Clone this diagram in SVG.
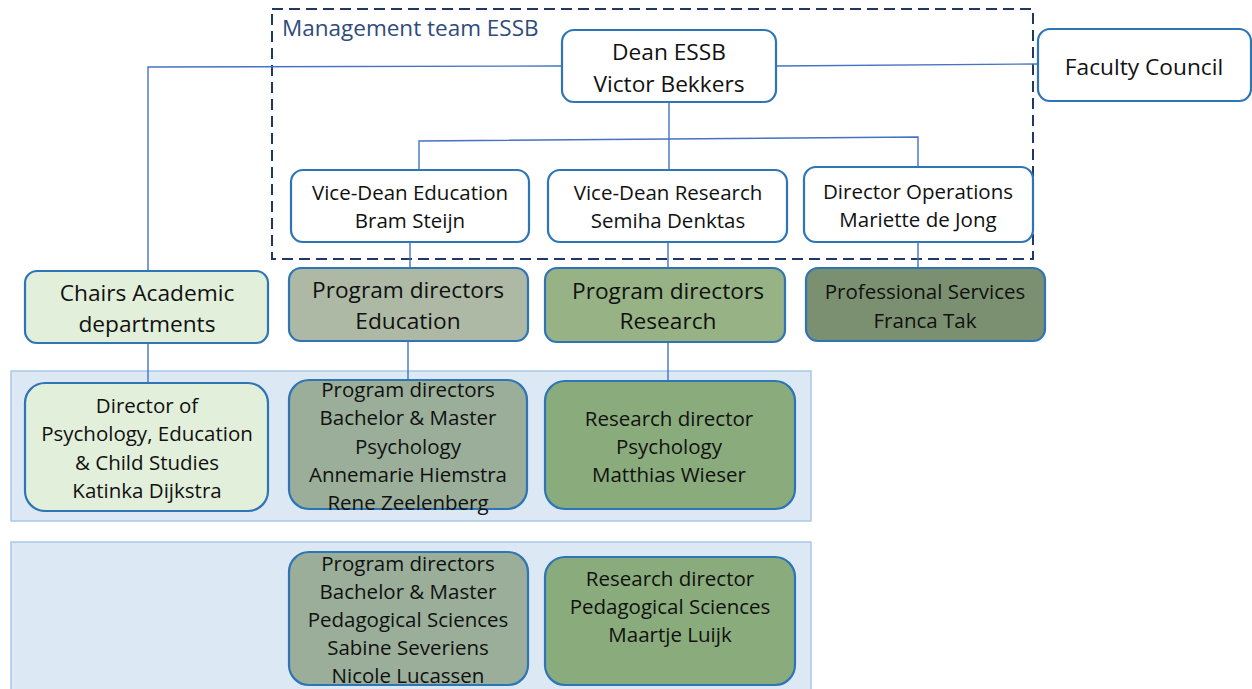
<svg xmlns="http://www.w3.org/2000/svg" width="1252" height="689" viewBox="0 0 1252 689">
  <style>
    text { font-family: "Open Sans", "Noto Sans", "Liberation Sans", sans-serif; fill: #111; text-anchor: middle; dominant-baseline: central; }
    .box { stroke: #2e75b6; stroke-width: 2.2; }
    .w { fill: #ffffff; }
    .c1 { fill: #e2efda; }
    .c2 { fill: #adb9a5; }
    .c3 { fill: #97b385; }
    .c4 { fill: #7b9070; }
    .c5 { fill: #9aae9a; }
    .c6 { fill: #8aab7c; }
    .band { fill: #dde8f5; stroke: #a8c8e8; stroke-width: 1.5; }
    .link { fill: none; stroke: #4472c4; stroke-width: 1.4; }
    .f21 { font-size: 22.7px; }
    .f19 { font-size: 20.5px; }
  </style>

  <!-- background bands -->
  <rect class="band" x="11" y="371" width="800" height="150"/>
  <rect class="band" x="11" y="542" width="800" height="150"/>

  <!-- management team frame -->
  <g id="management-team">
    <rect x="272" y="9" width="761" height="250" fill="none" stroke="#1f3864" stroke-width="2" stroke-dasharray="11,6"/>
    <text x="282" y="27" style="text-anchor:start;font-size:22.5px;fill:#2f4b7c">Management team ESSB</text>
  </g>

  <!-- connectors -->
  <g id="connectors">
    <polyline class="link" points="562,66 148,67 148,271"/>
    <polyline class="link" points="776,66 1038,64"/>
    <line class="link" x1="669" y1="102" x2="669" y2="170"/>
    <polyline class="link" points="419,170 419,141 918,137 918,167"/>
    <line class="link" x1="410" y1="242" x2="410" y2="268"/>
    <line class="link" x1="668" y1="242" x2="668" y2="268"/>
    <line class="link" x1="918" y1="242" x2="918" y2="272"/>
    <line class="link" x1="148" y1="343" x2="148" y2="383"/>
    <line class="link" x1="408" y1="341" x2="408" y2="380"/>
    <line class="link" x1="668" y1="342" x2="668" y2="381"/>
  </g>

  <g id="dean">
    <rect class="box w" x="562" y="30" width="214" height="72" rx="12"/>
    <text class="f21" x="669" y="51">Dean ESSB</text>
    <text class="f21" x="669" y="83">Victor Bekkers</text>
  </g>

  <g id="faculty-council">
    <rect class="box w" x="1038" y="29" width="213" height="72" rx="12"/>
    <text class="f21" x="1144" y="66">Faculty Council</text>
  </g>

  <g id="vice-dean-education">
    <rect class="box w" x="291" y="170" width="238" height="72" rx="12"/>
    <text class="f19" x="410" y="192">Vice-Dean Education</text>
    <text class="f19" x="410" y="220">Bram Steijn</text>
  </g>

  <g id="vice-dean-research">
    <rect class="box w" x="548" y="170" width="239" height="72" rx="12"/>
    <text class="f19" x="668" y="192">Vice-Dean Research</text>
    <text class="f19" x="668" y="220">Semiha Denktas</text>
  </g>

  <g id="director-operations">
    <rect class="box w" x="804" y="167" width="229" height="75" rx="12"/>
    <text class="f19" x="918" y="191">Director Operations</text>
    <text class="f19" x="918" y="219">Mariette de Jong</text>
  </g>

  <g id="chairs">
    <rect class="box c1" x="25" y="271" width="243" height="72" rx="12"/>
    <text class="f21" x="147" y="292">Chairs Academic</text>
    <text class="f21" x="147" y="323">departments</text>
  </g>

  <g id="pd-education">
    <rect class="box c2" x="289" y="268" width="239" height="73" rx="12"/>
    <text class="f21" x="408" y="289">Program directors</text>
    <text class="f21" x="408" y="320">Education</text>
  </g>

  <g id="pd-research">
    <rect class="box c3" x="545" y="268" width="240" height="74" rx="12"/>
    <text class="f21" x="668" y="290">Program directors</text>
    <text class="f21" x="668" y="320">Research</text>
  </g>

  <g id="professional-services">
    <rect class="box c4" x="806" y="268" width="239" height="73" rx="12"/>
    <text class="f19" x="925" y="291">Professional Services</text>
    <text class="f19" x="925" y="320">Franca Tak</text>
  </g>

  <g id="director-pecs">
    <rect class="box c1" x="25" y="383" width="243" height="128" rx="20"/>
    <text class="f19" x="147" y="405">Director of</text>
    <text class="f19" x="147" y="433">Psychology, Education</text>
    <text class="f19" x="147" y="462">&amp; Child Studies</text>
    <text class="f19" x="147" y="490">Katinka Dijkstra</text>
  </g>

  <g id="pd-psychology">
    <rect class="box c5" x="289" y="380" width="238" height="129" rx="20"/>
    <text class="f19" x="408" y="389">Program directors</text>
    <text class="f19" x="408" y="417">Bachelor &amp; Master</text>
    <text class="f19" x="408" y="446">Psychology</text>
    <text class="f19" x="408" y="474">Annemarie Hiemstra</text>
    <text class="f19" x="408" y="502">Rene Zeelenberg</text>
  </g>

  <g id="rd-psychology">
    <rect class="box c6" x="545" y="381" width="250" height="128" rx="20"/>
    <text class="f19" x="669" y="418">Research director</text>
    <text class="f19" x="669" y="446">Psychology</text>
    <text class="f19" x="669" y="474">Matthias Wieser</text>
  </g>

  <g id="pd-pedagogical">
    <rect class="box c5" x="289" y="552" width="239" height="133" rx="20"/>
    <text class="f19" x="408" y="563">Program directors</text>
    <text class="f19" x="408" y="591">Bachelor &amp; Master</text>
    <text class="f19" x="408" y="619">Pedagogical Sciences</text>
    <text class="f19" x="408" y="647">Sabine Severiens</text>
    <text class="f19" x="408" y="675">Nicole Lucassen</text>
  </g>

  <g id="rd-pedagogical">
    <rect class="box c6" x="545" y="557" width="250" height="128" rx="20"/>
    <text class="f19" x="670" y="578">Research director</text>
    <text class="f19" x="670" y="606">Pedagogical Sciences</text>
    <text class="f19" x="670" y="634">Maartje Luijk</text>
  </g>
</svg>
